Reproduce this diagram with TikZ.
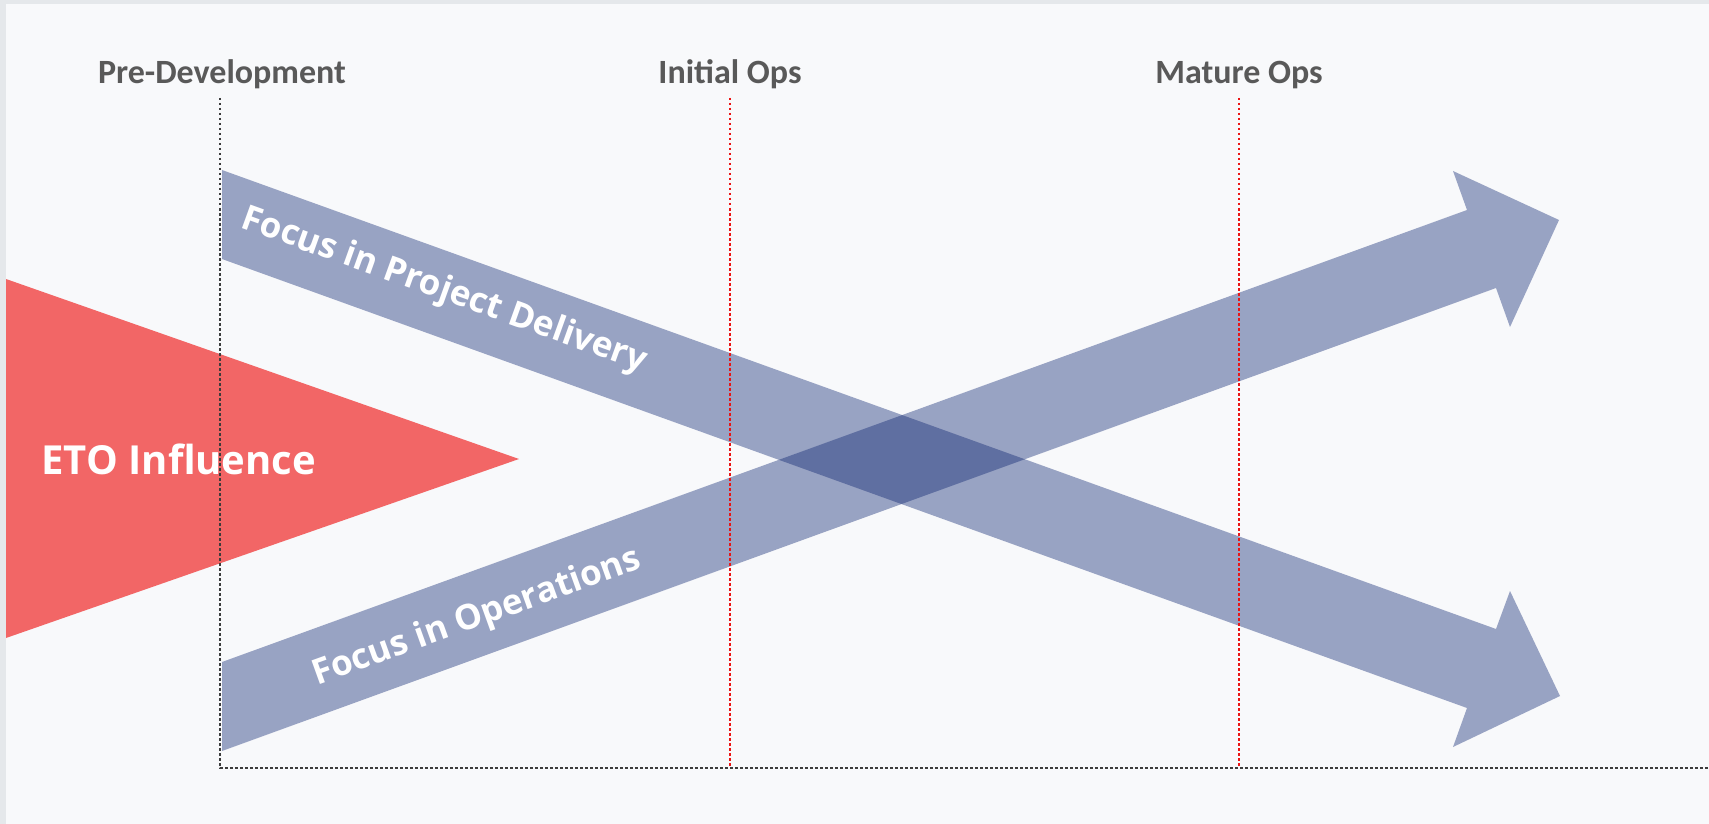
\documentclass[tikz,border=0pt]{standalone}
\usepackage{fontspec}
\setmainfont{Carlito}
\newfontfamily\bandfont{Open Sans}
\usetikzlibrary{positioning}

\definecolor{pagebg}{RGB}{248,249,251}
\definecolor{edgegray}{RGB}{229,232,235}
\definecolor{labelgray}{RGB}{89,89,89}
\definecolor{etored}{RGB}{242,102,102}
\definecolor{bandblue}{RGB}{10,34,111}
\definecolor{phasered}{RGB}{235,20,20}
\definecolor{axisgray}{RGB}{60,60,60}

\newcommand{\phaselabel}[3]{
    \node[phasetext] (#3) at (#1,84) {#2};
}

\begin{document}
\begin{tikzpicture}[x=1pt,y=-1pt,
    phasetext/.style={anchor=base, text=labelgray, font=\fontsize{34}{40}\selectfont\bfseries},
    bandtext/.style={text=white, font=\bandfont\fontsize{35}{40}\selectfont\bfseries},
    band/.style={fill=bandblue, fill opacity=0.4},
    dotline/.style={line width=2.5pt, dash pattern=on 2.5pt off 2.5pt}]
    \useasboundingbox (0,0) rectangle (1709,824);
    % Drawing the page
    \fill[edgegray] (0,0) rectangle (1709,824);
    \fill[pagebg] (6,4) rectangle (1709,824);

    % influence wedge
    \fill[etored] (6,279) -- (519,459) -- (6,638) -- cycle;
    \node[anchor=base west, text=white, font=\bandfont\fontsize{40}{46}\selectfont\bfseries] (eto) at (38,474) {ETO Influence};

    % the two crossing arrows
    \fill[band] (222,170) -- (1496,629) -- (1510,591) -- (1560,696) -- (1453,747) -- (1467,708) -- (222,259) -- cycle;
    \fill[band] (222,751) -- (1496,288) -- (1510,327) -- (1559,220) -- (1453,171) -- (1467,210) -- (222,662) -- cycle;
    \node[bandtext, rotate=-19.8] (delivery) at (444,291) {Focus in Project Delivery};
    \node[bandtext, rotate=19.8] (operations) at (477,618) {Focus in Operations};

    % phases
    \phaselabel{222}{Pre-Development}{pre}
    \phaselabel{730}{Initial Ops}{initial}
    \phaselabel{1239}{Mature Ops}{mature}
    \draw[dotline, axisgray] (220,98) -- (220,768) -- (1709,768);
    \foreach \x in {730,1239}{
        \draw[dotline, phasered] (\x,98) -- (\x,767);
    }
\end{tikzpicture}
\end{document}
